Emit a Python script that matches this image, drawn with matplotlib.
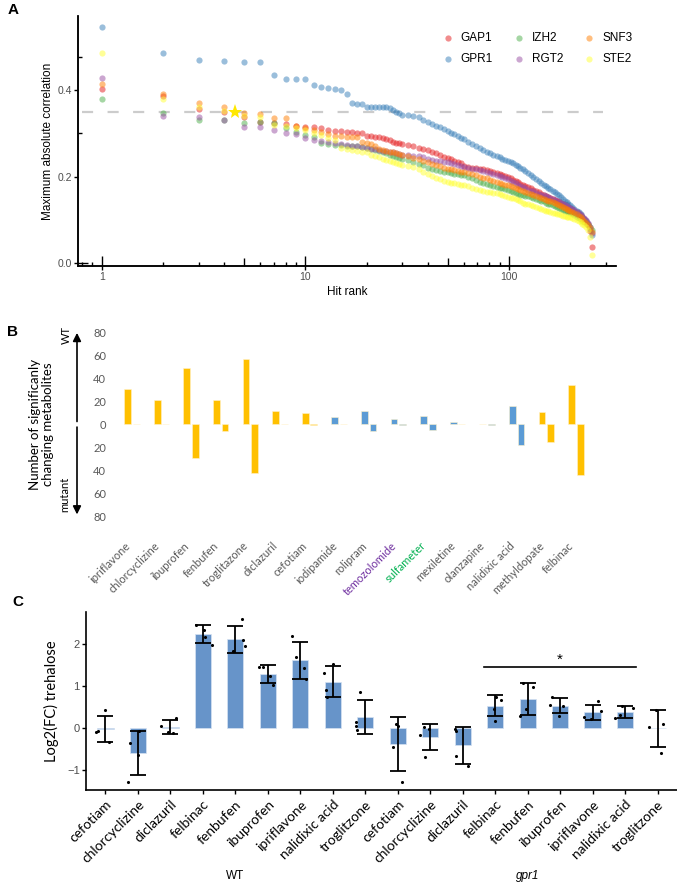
import numpy as np
import matplotlib
matplotlib.use('Agg')
from matplotlib import pyplot as plt
from matplotlib.ticker import FixedLocator, NullFormatter, FuncFormatter
import matplotlib.transforms as mtransforms

plt.rcParams['font.family'] = ['Liberation Sans', 'DejaVu Sans']

# ---------------- panel A: max abs correlation vs hit rank ----------------
ranks = (list(range(1, 31)) + list(range(32, 61, 2)) + list(range(63, 121, 3))
         + list(range(124, 201, 4)) + list(range(205, 256, 5)))

gap1 = [0.403, 0.387, 0.357, 0.350, 0.338, 0.326, 0.323, 0.321, 0.317, 0.315,
        0.314, 0.313, 0.309, 0.306, 0.305, 0.304, 0.303, 0.302, 0.301, 0.294,
        0.293, 0.292, 0.291, 0.290, 0.288, 0.285, 0.281, 0.278, 0.277, 0.276,
        0.273, 0.270, 0.267, 0.264, 0.261, 0.258, 0.255, 0.251, 0.246, 0.243, 0.240, 0.237, 0.234, 0.231, 0.224,
        0.222, 0.221, 0.220, 0.219, 0.217, 0.215, 0.213, 0.210, 0.208, 0.206, 0.203, 0.201, 0.199, 0.196, 0.193, 0.190, 0.187, 0.184, 0.181, 0.179,
        0.176, 0.173, 0.170, 0.167, 0.164, 0.161, 0.158, 0.155, 0.153, 0.151, 0.149, 0.147, 0.145, 0.143, 0.140, 0.138, 0.136, 0.134, 0.131, 0.129,
        0.126, 0.122, 0.119, 0.115, 0.111, 0.107, 0.103, 0.098, 0.090, 0.075, 0.038]
gpr1 = [0.545, 0.485, 0.469, 0.466, 0.465, 0.464, 0.435, 0.426, 0.426, 0.425,
        0.411, 0.407, 0.404, 0.402, 0.400, 0.391, 0.370, 0.369, 0.369, 0.362,
        0.362, 0.361, 0.361, 0.361, 0.360, 0.358, 0.354, 0.350, 0.346, 0.343,
        0.342, 0.340, 0.337, 0.332, 0.327, 0.322, 0.318, 0.314, 0.310, 0.306, 0.302, 0.298, 0.294, 0.290, 0.286,
        0.281, 0.276, 0.271, 0.266, 0.262, 0.258, 0.255, 0.251, 0.248, 0.245, 0.242, 0.239, 0.236, 0.233, 0.231, 0.228, 0.224, 0.220, 0.217, 0.214,
        0.208, 0.204, 0.199, 0.194, 0.190, 0.186, 0.182, 0.178, 0.175, 0.171, 0.168, 0.164, 0.161, 0.157, 0.153, 0.149, 0.145, 0.141, 0.137, 0.134,
        0.130, 0.126, 0.122, 0.118, 0.113, 0.108, 0.103, 0.098, 0.092, 0.080, 0.065]
izh2 = [0.380, 0.346, 0.332, 0.331, 0.325, 0.326, 0.324, 0.312, 0.303, 0.296,
        0.292, 0.278, 0.276, 0.274, 0.273, 0.272, 0.271, 0.270, 0.268, 0.266,
        0.264, 0.262, 0.260, 0.257, 0.254, 0.251, 0.249, 0.246, 0.244, 0.242,
        0.239, 0.235, 0.230, 0.226, 0.221, 0.218, 0.216, 0.214, 0.212, 0.210, 0.209, 0.207, 0.206, 0.205, 0.203,
        0.200, 0.196, 0.192, 0.188, 0.186, 0.184, 0.182, 0.179, 0.177, 0.175, 0.173, 0.171, 0.169, 0.167, 0.165, 0.163, 0.161, 0.159, 0.157, 0.156,
        0.155, 0.153, 0.151, 0.149, 0.147, 0.145, 0.143, 0.140, 0.138, 0.136, 0.134, 0.132, 0.130, 0.128, 0.126, 0.124, 0.122, 0.120, 0.118, 0.116,
        0.114, 0.111, 0.108, 0.105, 0.102, 0.099, 0.096, 0.093, 0.089, 0.084, 0.077]
rgt2 = [0.429, 0.341, 0.338, 0.331, 0.314, 0.314, 0.308, 0.300, 0.298, 0.290,
        0.284, 0.282, 0.280, 0.278, 0.276, 0.274, 0.272, 0.270, 0.268, 0.267,
        0.265, 0.263, 0.262, 0.260, 0.259, 0.257, 0.256, 0.254, 0.252, 0.251,
        0.250, 0.249, 0.247, 0.245, 0.241, 0.239, 0.237, 0.236, 0.235, 0.234, 0.232, 0.230, 0.228, 0.225, 0.223,
        0.221, 0.219, 0.217, 0.215, 0.213, 0.211, 0.208, 0.206, 0.204, 0.202, 0.200, 0.197, 0.194, 0.191, 0.188, 0.185, 0.182, 0.179, 0.176, 0.173,
        0.170, 0.168, 0.166, 0.163, 0.161, 0.159, 0.157, 0.155, 0.153, 0.151, 0.149, 0.147, 0.145, 0.142, 0.139, 0.137, 0.135, 0.133, 0.131, 0.129,
        0.126, 0.123, 0.119, 0.116, 0.112, 0.108, 0.104, 0.100, 0.094, 0.085, 0.070]
snf3 = [0.415, 0.391, 0.371, 0.361, 0.346, 0.345, 0.335, 0.335, 0.317, 0.313,
        0.308, 0.303, 0.298, 0.295, 0.293, 0.292, 0.292, 0.291, 0.280, 0.277,
        0.275, 0.270, 0.264, 0.262, 0.260, 0.258, 0.256, 0.254, 0.252, 0.250,
        0.247, 0.244, 0.240, 0.237, 0.233, 0.230, 0.227, 0.224, 0.221, 0.219, 0.217, 0.215, 0.213, 0.212, 0.211,
        0.209, 0.206, 0.203, 0.200, 0.198, 0.196, 0.193, 0.190, 0.188, 0.186, 0.184, 0.182, 0.180, 0.178, 0.176, 0.174, 0.171, 0.169, 0.166, 0.164,
        0.162, 0.160, 0.158, 0.155, 0.153, 0.151, 0.149, 0.147, 0.145, 0.143, 0.141, 0.139, 0.137, 0.135, 0.132, 0.130, 0.128, 0.126, 0.124, 0.122,
        0.119, 0.116, 0.113, 0.110, 0.106, 0.102, 0.098, 0.094, 0.089, 0.082, 0.072]
ste2 = [0.486, 0.379, 0.362, 0.352, 0.340, 0.338, 0.320, 0.318, 0.312, 0.307,
        0.302, 0.296, 0.290, 0.285, 0.266, 0.264, 0.262, 0.260, 0.258, 0.256,
        0.250, 0.247, 0.245, 0.242, 0.239, 0.236, 0.234, 0.231, 0.229, 0.227,
        0.225, 0.222, 0.217, 0.212, 0.207, 0.202, 0.198, 0.194, 0.190, 0.187, 0.186, 0.185, 0.184, 0.182, 0.181,
        0.178, 0.175, 0.172, 0.169, 0.167, 0.165, 0.164, 0.163, 0.162, 0.160, 0.158, 0.156, 0.154, 0.152, 0.150, 0.148, 0.146, 0.143, 0.140, 0.138,
        0.136, 0.134, 0.132, 0.130, 0.128, 0.126, 0.124, 0.122, 0.120, 0.118, 0.117, 0.116, 0.115, 0.113, 0.112, 0.110, 0.109, 0.108, 0.107, 0.106,
        0.104, 0.103, 0.101, 0.099, 0.096, 0.092, 0.088, 0.083, 0.077, 0.060, 0.019]

genes = ['GAP1', 'GPR1', 'IZH2', 'RGT2', 'SNF3', 'STE2']
gene_colors = ['#E41A1C', '#377EB8', '#4DAF4A', '#984EA3', '#FF7F00', '#FFFF33']
cutoff = 0.35
star_rank, star_val = 4.5, 0.35

# ---------------- panel B: number of changing metabolites ----------------
drugs_b = ['ipriflavone', 'chlorcyclizine', 'ibuprofen', 'fenbufen', 'troglitazone',
           'diclazuril', 'cefotiam', 'iodipamide', 'rolipram', 'temozolomide',
           'sulfameter', 'mexiletine', 'olanzapine', 'nalidixic acid',
           'methyldopate', 'felbinac']
wt_counts = [31, 21, 49, 21, 57, 12, 10, 6, 12, 5, 7, 2, 0, 16, 11, 34]
mut_counts = [0, 0, 29, 6, 42, 0, 1, 0, 6, 1, 5, 0, 1, 18, 15, 44]
hit_b = [1, 1, 1, 1, 1, 1, 1, 0, 0, 0, 0, 0, 0, 0, 1, 1]
label_colors_b = {'temozolomide': '#7030A0', 'sulfameter': '#00B050'}

# ---------------- panel C: trehalose ----------------
drugs_c = ['cefotiam', 'chlorcyclizine', 'diclazuril', 'felbinac', 'fenbufen',
           'ibuprofen', 'ipriflavone', 'nalidixic acid', 'troglitzone']
wt_mean = [-0.02, -0.60, 0.01, 2.23, 2.10, 1.28, 1.61, 1.10, 0.25]
wt_sd = [0.31, 0.52, 0.17, 0.21, 0.33, 0.205, 0.44, 0.36, 0.405]
gpr1_mean = [-0.39, -0.21, -0.42, 0.52, 0.68, 0.52, 0.37, 0.37, -0.015]
gpr1_sd = [0.64, 0.31, 0.44, 0.25, 0.385, 0.18, 0.18, 0.14, 0.435]
wt_points = [[-0.11, -0.08, 0.42, -0.33], [-0.37, -0.07, -0.65, -1.29],
             [0.05, -0.10, -0.13, 0.24], [2.44, 2.33, 2.17, 1.96],
             [1.83, 2.58, 2.09, 1.94], [1.44, 1.45, 1.23, 1.02],
             [2.18, 1.69, 1.43, 1.17], [1.31, 0.90, 0.74, 1.52],
             [0.14, 0.05, -0.06, 0.86]]
wt_jitter = [[-0.30, -0.22, 0.0, 0.10], [-0.25, 0.02, 0.01, -0.30],
             [-0.30, -0.07, 0.09, 0.16], [-0.20, 0.03, 0.06, 0.28],
             [-0.07, 0.19, 0.24, 0.29], [-0.28, -0.14, 0.06, 0.16],
             [-0.26, -0.14, 0.12, 0.17], [-0.28, -0.21, -0.17, 0.01],
             [-0.27, -0.27, -0.25, -0.17]]
gpr1_points = [[-0.45, 0.10, 0.05, -1.29], [-0.17, 0.01, -0.04, -0.69],
               [-0.02, -0.07, -0.67, -0.90], [0.44, 0.17, 0.74, 0.67],
               [0.28, 0.44, 1.07, 0.96], [0.54, 0.72, 0.29, 0.52],
               [0.26, 0.21, 0.63, 0.40], [0.23, 0.30, 0.52, 0.46],
               [0.02, 0.10, 0.42, -0.61]]
gpr1_jitter = [[-0.14, -0.05, 0.01, 0.14], [-0.30, -0.20, -0.04, -0.15],
               [-0.25, -0.21, -0.22, 0.17], [-0.04, 0.0, 0.02, 0.19],
               [-0.25, -0.04, -0.14, 0.16], [-0.32, -0.24, -0.02, 0.09],
               [-0.25, -0.04, 0.16, 0.27], [-0.30, -0.14, -0.10, 0.26],
               [-0.27, 0.16, -0.05, 0.11]]
sig_from, sig_to, sig_y, sig_star_y = 12, 16, 1.45, 1.62

W, H = 677, 886
fig = plt.figure(figsize=(W / 100, H / 100), dpi=100)


def frac(x0, y0, x1, y1):
    # pixel box -> figure fraction rect
    return [x0 / W, 1 - y1 / H, (x1 - x0) / W, (y1 - y0) / H]


# ======================= A =======================
axA = fig.add_axes(frac(78, 16, 616, 266))
series = [gap1, gpr1, izh2, rgt2, snf3, ste2]
for name, col, vals in zip(genes, gene_colors, series):
    axA.scatter(ranks, vals, s=20, color=col, alpha=0.5, linewidths=0, label=name)
axA.hlines(cutoff, 0.8, 290, colors='#CCCCCC', linestyles=(0, (5, 6.5)), linewidth=1.6, zorder=0)
axA.plot([star_rank], [star_val], marker='*', markersize=11, color='#FFE800',
         markeredgewidth=0, zorder=5)
axA.set_xscale('log')
axA.set_xlim(0.765, 336)
axA.set_ylim(-0.006, 0.571)
for s in ['top', 'right']:
    axA.spines[s].set_visible(False)
for s in ['left', 'bottom']:
    axA.spines[s].set_linewidth(1.1)
axA.xaxis.set_major_locator(FixedLocator([1, 10, 100]))
axA.xaxis.set_major_formatter(FuncFormatter(lambda v, p: f'{v:g}'))
minors = [k * 10 ** d for d in (-1, 0, 1, 2) for k in (2, 3, 4, 6, 7, 8, 9)]
minors = [m for m in minors if 0.765 < m < 336]
axA.xaxis.set_minor_locator(FixedLocator(minors))
axA.xaxis.set_minor_formatter(NullFormatter())
axA.set_yticks([0.0, 0.2, 0.4])
axA.set_yticklabels(['0.0', '0.2', '0.4'])
axA.yaxis.set_minor_locator(FixedLocator([np.log10(2), np.log10(3)]))
axA.tick_params(which='major', direction='out', length=3, width=1, labelsize=7.5,
                labelcolor='#4D4D4D', pad=1.5)
axA.tick_params(which='minor', direction='in', length=3, width=1)
secx = axA.secondary_xaxis('bottom')
secx.set_xticks([1, 10, 100])
secx.set_xticks([5, 50], minor=True)
secx.xaxis.set_major_formatter(NullFormatter())
secx.xaxis.set_minor_formatter(NullFormatter())
secx.tick_params(which='major', direction='in', length=7.5, width=1)
secx.tick_params(which='minor', direction='in', length=5.5, width=1)
secx.spines['bottom'].set_linewidth(1.1)
secy = axA.secondary_yaxis('left')
secy.set_yticks([0.0])
secy.yaxis.set_major_formatter(NullFormatter())
secy.tick_params(which='major', direction='in', length=7.5, width=1)
secy.tick_params(which='minor', length=0)
secy.spines['left'].set_linewidth(1.1)
axA.set_xlabel('Hit rank', fontsize=8.5, labelpad=3)
axA.set_ylabel('Maximum absolute correlation', fontsize=8.5, labelpad=2)
axA.legend(ncol=3, frameon=False, loc='upper left', bbox_to_anchor=(0.665, 0.955),
           fontsize=8.5, handletextpad=0.5, columnspacing=1.6, labelspacing=0.75,
           borderaxespad=0, scatterpoints=1, handlelength=1.2)
fig.text(13 / W, 1 - 10 / H, 'A', fontsize=11, fontweight='bold', ha='center', va='center')

# ======================= B =======================
axB = fig.add_axes(frac(117.1, 332.3, 590.7, 516.3))
nb = len(drugs_b)
xb = np.arange(nb)
cols_b = ['#FFC000' if h else '#5B9BD5' for h in hit_b]
axB.bar(xb - 0.145, wt_counts, width=0.235, color=cols_b, edgecolor='#FFF2CC', linewidth=0.4)
axB.bar(xb + 0.145, [-m for m in mut_counts], width=0.235, color=cols_b,
        edgecolor='#FFF2CC', linewidth=0.4)
axB.set_xlim(-0.5, nb - 0.5)
axB.set_ylim(-80, 80)
axB.set_yticks(range(-80, 81, 20))
axB.yaxis.set_major_formatter(FuncFormatter(lambda v, p: f'{abs(int(v))}'))
for s in axB.spines.values():
    s.set_visible(False)
axB.tick_params(axis='y', length=0, pad=8, labelsize=8, labelcolor='#595959')
axB.set_xticks(xb)
axB.set_xticklabels(drugs_b, rotation=45, ha='right', va='top', fontsize=8,
                    family=['Lato', 'DejaVu Sans'])
axB.tick_params(axis='x', length=0, pad=17)
for lab in axB.get_xticklabels():
    lab.set_color(label_colors_b.get(lab.get_text(), '#595959'))
for lab in axB.get_yticklabels():
    lab.set_family(['Lato', 'DejaVu Sans'])
ax_arrow_x = (77 - 117.1) / (590.7 - 117.1)
axB.annotate('', xy=(ax_arrow_x, 1.012), xytext=(ax_arrow_x, 0.5), xycoords='axes fraction',
             arrowprops=dict(arrowstyle='-|>', color='black', lw=1.2, mutation_scale=12),
             annotation_clip=False)
axB.annotate('', xy=(ax_arrow_x, -0.005), xytext=(ax_arrow_x, 0.5), xycoords='axes fraction',
             arrowprops=dict(arrowstyle='-|>', color='black', lw=1.2, mutation_scale=12),
             annotation_clip=False)
axB.text((66 - 117.1) / 473.6, 0.985, 'WT', rotation=90, ha='center', va='center',
         fontsize=8, transform=axB.transAxes, family=['Lato', 'DejaVu Sans'])
axB.text((65 - 117.1) / 473.6, 0.12, 'mutant', rotation=90, ha='center', va='center',
         fontsize=8, transform=axB.transAxes, family=['Lato', 'DejaVu Sans'])
axB.text((41 - 117.1) / 473.6, 0.5, 'Number of significanly\nchanging metabolites',
         rotation=90, ha='center', va='center', fontsize=9.5, linespacing=1.1,
         transform=axB.transAxes, family=['Lato', 'DejaVu Sans'])
fig.text(13 / W, 1 - 332 / H, 'B', fontsize=11, fontweight='bold', ha='center', va='center')

# ======================= C =======================
axC = fig.add_axes(frac(86, 611.7, 677, 790))
nc = len(drugs_c)
xc = np.arange(2 * nc)
means = wt_mean + gpr1_mean
sds = wt_sd + gpr1_sd
axC.bar(xc, means, width=0.5, color='#6794C9', edgecolor='#D6E2F2', linewidth=0.5, zorder=1)
axC.errorbar(xc, means, yerr=sds, fmt='none', ecolor='black', elinewidth=1.3,
             capsize=6, capthick=1.3, zorder=3)
pts = wt_points + gpr1_points
jit = wt_jitter + gpr1_jitter
for i in range(2 * nc):
    axC.scatter(np.array(jit[i]) + xc[i], pts[i], s=5, color='black', linewidths=0, zorder=4)
axC.plot([sig_from - 0.35, sig_to + 0.33], [sig_y, sig_y], color='black', lw=1.2)
axC.text((sig_from + sig_to) / 2, sig_star_y, '*', ha='center', va='center', fontsize=11)
axC.set_xlim(-0.6, 2 * nc - 1 + 0.6)
axC.set_ylim(-1.48, 2.76)
for s in ['top', 'right']:
    axC.spines[s].set_visible(False)
for s in ['left', 'bottom']:
    axC.spines[s].set_linewidth(1.2)
axC.set_yticks([-1, 0, 1, 2])
axC.tick_params(axis='y', direction='out', length=3, width=1, labelsize=8,
                labelcolor='#4D4D4D', pad=1.5)
axC.set_xticks(xc)
axC.set_xticklabels(drugs_c + drugs_c, rotation=45, ha='right', va='top',
                    rotation_mode='anchor', fontsize=10, family=['Lato', 'DejaVu Sans'])
axC.tick_params(axis='x', direction='out', length=3, width=1, pad=3)
axC.set_ylabel('Log2(FC) trehalose', fontsize=10.5, labelpad=6, family=['Lato', 'DejaVu Sans'])
grp_tr = mtransforms.blended_transform_factory(axC.transData, axC.transAxes)
axC.text(4, -0.485, 'WT', ha='center', va='center', fontsize=8.5, transform=grp_tr)
axC.text(13, -0.485, 'gpr1', ha='center', va='center', fontsize=8.5, style='italic',
         transform=grp_tr)
fig.text(18 / W, 1 - 602 / H, 'C', fontsize=11, fontweight='bold', ha='center', va='center')

fig.savefig('out.png', dpi=100)
